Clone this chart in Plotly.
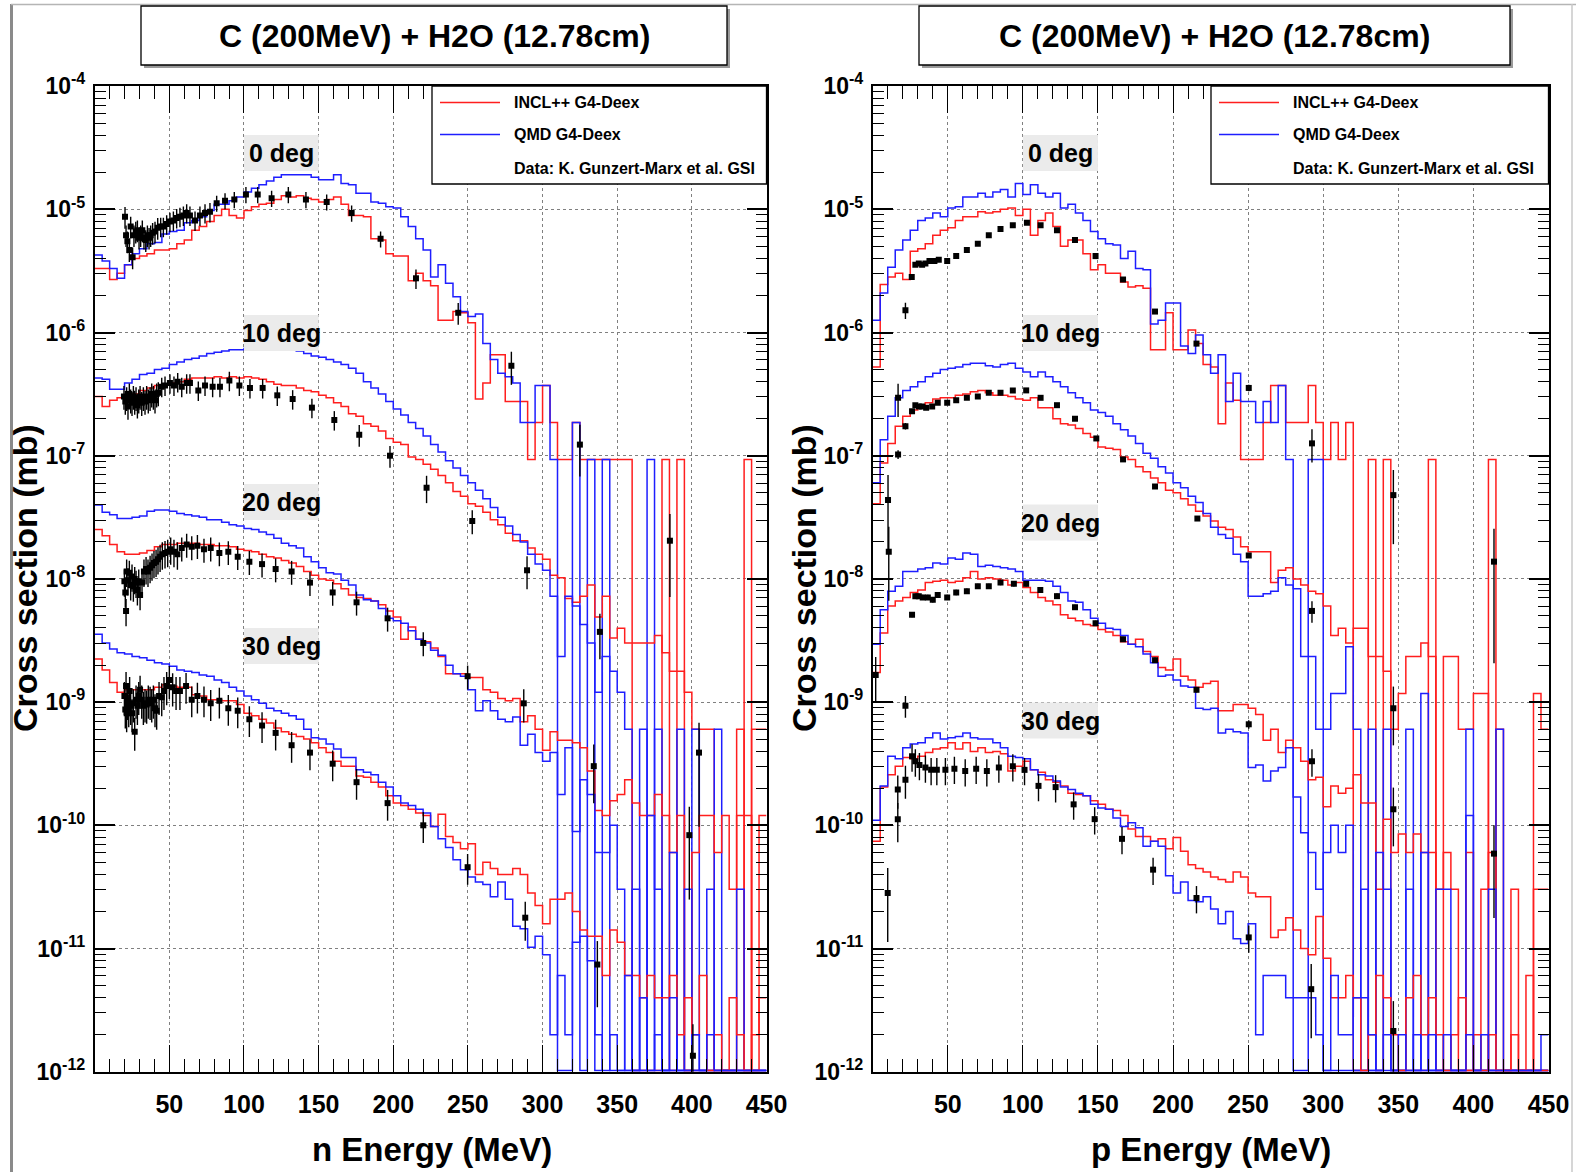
import plotly.graph_objects as go

W, H = 1576, 1172
N = None  # empty histogram bin

# ---------------------------------------------------------------------------
# Simulated spectra: log10(cross section / mb) in 5-MeV bins from 0 to 450 MeV
# ---------------------------------------------------------------------------
bin_edges = list(range(0, 455, 5))

# ---- neutrons (left panel) ----
n_incl_0 = [
    -5.48, -5.48, -5.57, -5.52, -5.45, -5.40, -5.38, -5.36, -5.33, -5.33,
    -5.32, -5.28, -5.25, -5.17, -5.14, -5.10, -5.05, -5.00, -5.05, -5.07,
    -5.01, -4.98, -4.96, -4.95, -4.92, -4.89, -4.90, -4.89, -4.91, -4.92,
    -4.94, -4.92, -4.90, -4.96, -5.05, -5.05, -5.06, -5.24, -5.25, -5.36,
    -5.38, -5.38, -5.58, -5.52, -5.58, -5.62, -5.90, -5.90, -5.83, -5.84,
    -5.92, -6.54, -6.41, -6.18, -6.18, -6.56, -6.56, -6.56, -7.03, -6.73,
    -6.43, -6.73, -7.03, -7.03, -6.73, -7.03, -7.03, -7.03, -7.03, -7.03,
    -7.03, -7.03, N, N, N, N, -7.03, N, -7.03, N,
    N, N, N, N, N, N, N, -7.03, N, N]
n_qmd_0 = [
    -5.37, -5.42, -5.48, -5.56, -5.45, -5.36, -5.32, -5.28, -5.27, -5.20,
    -5.18, -5.17, -5.11, -5.09, -5.06, -5.01, -4.96, -4.96, -4.93, -4.90,
    -4.86, -4.83, -4.80, -4.77, -4.74, -4.72, -4.72, -4.72, -4.72, -4.74,
    -4.76, -4.76, -4.72, -4.79, -4.80, -4.87, -4.87, -4.94, -4.95, -4.98,
    -4.99, -5.06, -5.14, -5.24, -5.33, -5.55, -5.45, -5.60, -5.71, -5.83,
    -5.87, -5.85, -6.09, -6.22, -6.33, -6.36, -6.41, -6.73, -6.73, -6.43,
    -6.43, -7.03, N, N, -6.73, N, -7.03, N, -7.03, N,
    N, N, N, N, -7.03, N, N, N, N, N,
    N, N, N, N, N, N, N, N, N, N]
n_incl_10 = [
    -6.52, -6.60, -6.55, -6.53, -6.51, -6.50, -6.47, -6.45, -6.43, -6.42,
    -6.41, -6.40, -6.38, -6.37, -6.37, -6.37, -6.36, -6.37, -6.36, -6.37,
    -6.36, -6.37, -6.38, -6.40, -6.42, -6.43, -6.43, -6.45, -6.47, -6.48,
    -6.51, -6.53, -6.57, -6.60, -6.66, -6.68, -6.74, -6.76, -6.80, -6.86,
    -6.89, -6.91, -7.01, -7.03, -7.07, -7.11, -7.16, -7.22, -7.29, -7.33,
    -7.39, -7.41, -7.46, -7.52, -7.56, -7.63, -7.69, -7.69, -7.75, -7.80,
    -7.84, -7.97, -7.99, -8.16, -8.19, -8.14, -8.05, -8.31, -8.14, -8.48,
    -8.40, -8.52, -8.52, -8.52, -8.52, -8.46, -8.60, -8.75, -8.75, -8.92,
    -9.22, -9.22, -9.22, N, N, N, -9.22, N, -9.22, -9.22]
n_qmd_10 = [
    -6.37, -6.38, -6.46, -6.46, -6.41, -6.38, -6.34, -6.33, -6.30, -6.29,
    -6.26, -6.24, -6.22, -6.21, -6.19, -6.17, -6.16, -6.15, -6.14, -6.14,
    -6.13, -6.12, -6.12, -6.12, -6.12, -6.13, -6.14, -6.15, -6.17, -6.19,
    -6.20, -6.22, -6.24, -6.26, -6.29, -6.33, -6.40, -6.45, -6.50, -6.56,
    -6.62, -6.67, -6.73, -6.78, -6.84, -6.91, -6.97, -7.04, -7.10, -7.16,
    -7.22, -7.28, -7.35, -7.42, -7.50, -7.57, -7.64, -7.70, -7.80, -7.88,
    -7.93, -8.14, -8.63, -8.14, -8.22, -8.37, -8.52, -8.92, -8.63, -8.75,
    -8.92, -9.22, N, -9.22, N, -9.22, N, N, -9.22, N,
    -9.22, N, N, -9.22, N, N, N, N, N, N]
n_incl_20 = [
    -7.60, -7.65, -7.72, -7.78, -7.80, -7.80, -7.79, -7.77, -7.74, -7.72,
    -7.72, -7.71, -7.71, -7.71, -7.72, -7.72, -7.73, -7.73, -7.74, -7.76,
    -7.77, -7.78, -7.80, -7.82, -7.83, -7.85, -7.87, -7.90, -7.94, -7.97,
    -8.00, -8.01, -8.04, -8.08, -8.13, -8.15, -8.16, -8.18, -8.21, -8.26,
    -8.31, -8.49, -8.39, -8.49, -8.51, -8.56, -8.63, -8.77, -8.77, -8.77,
    -8.80, -8.80, -8.90, -8.92, -8.97, -8.99, -8.97, -9.16, -9.11, -9.22,
    -9.39, -9.24, -9.31, -9.31, -9.33, -9.37, -9.56, -9.88, -9.92, -9.80,
    -9.75, -9.63, -9.82, -9.92, -9.92, -9.75, -9.92, -10.22, -9.92, N,
    -10.22, -9.92, -9.92, -10.22, -9.92, -10.52, -9.92, -9.92, N, -9.92]
n_qmd_20 = [
    -7.40, -7.46, -7.48, -7.51, -7.51, -7.50, -7.49, -7.45, -7.44, -7.44,
    -7.45, -7.47, -7.48, -7.49, -7.50, -7.52, -7.52, -7.54, -7.56, -7.57,
    -7.59, -7.60, -7.62, -7.64, -7.67, -7.71, -7.73, -7.75, -7.82, -7.86,
    -7.91, -7.95, -7.96, -8.01, -8.05, -8.13, -8.17, -8.18, -8.24, -8.32,
    -8.34, -8.36, -8.42, -8.49, -8.52, -8.58, -8.62, -8.70, -8.77, -8.79,
    -8.90, -9.07, -8.99, -9.07, -9.14, -9.16, -9.12, -9.35, -9.26, -9.41,
    -9.48, -9.41, -9.75, -9.37, -10.05, -9.63, -9.75, -10.22, -10.22, -10.00,
    -10.52, N, -10.52, N, -9.92, -10.52, N, -10.22, N, -10.52,
    N, N, -10.52, N, N, N, -10.52, N, N, N]
n_incl_30 = [
    -8.65, -8.74, -8.84, -8.92, -8.90, -8.90, -8.90, -8.90, -8.88, -8.86,
    -8.87, -8.88, -8.88, -8.94, -8.95, -8.98, -8.98, -8.99, -8.99, -9.02,
    -9.09, -9.11, -9.14, -9.17, -9.21, -9.24, -9.26, -9.28, -9.30, -9.33,
    -9.37, -9.41, -9.48, -9.52, -9.52, -9.60, -9.61, -9.65, -9.69, -9.76,
    -9.82, -9.84, -9.87, -9.90, -9.92, -10.01, -9.91, -10.09, -10.14, -10.19,
    -10.15, -10.40, -10.30, -10.35, -10.40, -10.40, -10.35, -10.40, -10.55, -10.65,
    -10.80, -10.60, -10.60, -10.55, -10.70, -10.85, -10.90, -10.90, -11.22, -10.85,
    -10.95, -11.22, -11.22, -11.40, -11.22, -11.40, -11.40, -11.22, -11.70, -11.40,
    -11.70, -11.22, N, -11.70, N, -11.40, -11.70, N, -11.70, -11.40]
n_qmd_30 = [
    -8.45, -8.52, -8.57, -8.60, -8.61, -8.63, -8.64, -8.66, -8.68, -8.69,
    -8.71, -8.74, -8.75, -8.76, -8.78, -8.79, -8.82, -8.84, -8.88, -8.91,
    -8.95, -8.98, -9.01, -9.05, -9.07, -9.09, -9.11, -9.14, -9.22, -9.29,
    -9.30, -9.34, -9.38, -9.45, -9.45, -9.55, -9.57, -9.59, -9.65, -9.69,
    -9.76, -9.82, -9.84, -9.87, -9.90, -10.01, -10.11, -10.18, -10.28, -10.36,
    -10.42, -10.46, -10.48, -10.58, -10.46, -10.60, -10.82, -10.84, -10.99, -10.90,
    -11.05, -11.70, -11.22, -11.70, -10.95, -10.90, -11.10, -11.70, N, -11.70,
    N, -11.22, N, -11.40, N, -11.70, N, -11.40, N, N,
    -11.70, N, -11.70, N, N, N, N, N, N, N]

# ---- protons (right panel) ----
p_incl_0 = [
    -6.28, -5.61, -5.55, -5.52, -5.57, -5.34, -5.32, -5.28, -5.21, -5.17,
    -5.15, -5.09, -5.06, -5.06, -5.02, -5.03, -5.02, -5.00, -4.99, -5.05,
    -5.00, -5.21, -5.09, -5.03, -5.14, -5.30, -5.25, -5.25, -5.36, -5.49,
    -5.45, -5.52, -5.52, -5.59, -5.63, -5.62, -5.64, -6.14, -6.14, -5.84,
    -6.14, -6.14, -5.98, -6.09, -6.26, -6.28, -6.74, -6.41, -6.55, -7.03,
    -7.03, -7.03, -6.73, -6.43, -6.43, -6.73, -6.73, -6.73, -6.43, -6.73,
    -7.03, -6.73, -7.03, -6.73, N, N, -7.03, N, -7.03, N,
    N, N, N, N, -7.03, N, N, N, N, N,
    N, N, -7.03, N, N, N, N, N, N, N]
p_qmd_0 = [
    -5.90, -5.68, -5.47, -5.33, -5.25, -5.17, -5.09, -5.07, -5.03, -5.06,
    -4.99, -4.98, -4.90, -4.90, -4.87, -4.90, -4.86, -4.84, -4.90, -4.79,
    -4.88, -4.80, -4.87, -4.90, -4.87, -4.99, -4.96, -5.03, -5.09, -5.18,
    -5.24, -5.28, -5.29, -5.40, -5.34, -5.48, -5.49, -5.93, -5.90, -5.76,
    -5.76, -6.11, -6.17, -6.02, -6.18, -6.33, -6.18, -6.56, -6.33, -6.56,
    -6.56, -6.73, -6.56, -6.73, -6.43, -7.03, N, N, -7.03, -7.03,
    N, N, N, N, N, N, N, N, N, N,
    N, N, N, N, N, N, N, N, N, N,
    N, N, N, N, N, N, N, N, N, N]
p_incl_10 = [
    -7.39, -7.06, -6.90, -6.76, -6.68, -6.63, -6.60, -6.57, -6.54, -6.53,
    -6.53, -6.51, -6.50, -6.48, -6.47, -6.49, -6.51, -6.51, -6.52, -6.54,
    -6.55, -6.53, -6.61, -6.61, -6.70, -6.74, -6.75, -6.78, -6.82, -6.85,
    -6.93, -6.94, -6.95, -7.01, -7.03, -7.09, -7.13, -7.18, -7.22, -7.28,
    -7.30, -7.35, -7.40, -7.45, -7.49, -7.53, -7.58, -7.60, -7.66, -7.74,
    -7.78, -7.78, -7.78, -8.03, -7.93, -7.91, -8.00, -8.05, -8.10, -8.12,
    -8.22, -8.46, -8.40, -8.52, -8.40, -8.40, -8.63, -8.63, -8.75, -9.22,
    -8.93, -8.63, -8.63, -8.52, -8.63, N, -8.63, -8.63, -9.22, -9.22,
    -8.93, -8.93, N, -9.22, N, N, N, N, -8.93, -9.22]
p_qmd_10 = [
    -7.22, -6.87, -6.68, -6.53, -6.47, -6.44, -6.40, -6.36, -6.33, -6.30,
    -6.29, -6.28, -6.26, -6.25, -6.25, -6.27, -6.28, -6.26, -6.25, -6.29,
    -6.32, -6.36, -6.32, -6.36, -6.40, -6.44, -6.49, -6.53, -6.57, -6.63,
    -6.65, -6.68, -6.74, -6.79, -6.84, -6.90, -6.98, -7.02, -7.09, -7.14,
    -7.22, -7.26, -7.33, -7.38, -7.47, -7.58, -7.64, -7.67, -7.80, -7.86,
    -8.14, -8.14, -8.12, -8.10, -7.99, -8.05, -8.08, -8.63, -8.63, -9.22,
    -9.22, -8.93, -8.93, -8.55, -9.22, N, -9.22, N, -9.22, N,
    N, -9.22, N, -8.93, N, N, N, N, N, -9.22,
    N, N, N, -9.22, N, N, N, N, N, N]
p_incl_20 = [
    -8.76, -8.44, -8.22, -8.18, -8.15, -8.11, -8.09, -8.03, -8.02, -8.01,
    -8.03, -8.02, -7.99, -7.94, -8.00, -7.99, -8.00, -8.01, -8.05, -8.03,
    -8.07, -8.11, -8.15, -8.18, -8.21, -8.29, -8.32, -8.34, -8.37, -8.38,
    -8.41, -8.43, -8.46, -8.51, -8.53, -8.49, -8.59, -8.63, -8.72, -8.74,
    -8.65, -8.79, -8.82, -8.88, -8.85, -8.83, -9.07, -9.07, -9.02, -9.02,
    -9.05, -9.10, -9.31, -9.22, -9.41, -9.31, -9.37, -9.48, -9.63, -9.61,
    -9.85, -9.68, -9.74, -9.70, -9.59, -9.82, -9.82, -10.52, -9.95, -10.22,
    -10.07, -10.22, -10.07, -10.22, -10.22, -10.52, -10.22, -10.52, N, -10.22,
    N, -10.52, -10.22, N, N, -10.52, N, N, -10.52, -10.52]
p_qmd_20 = [
    -8.53, -8.25, -8.10, -8.06, -7.94, -7.94, -7.92, -7.91, -7.87, -7.88,
    -7.83, -7.84, -7.79, -7.80, -7.90, -7.89, -7.90, -7.91, -7.92, -7.94,
    -8.01, -8.01, -8.01, -8.02, -8.06, -8.11, -8.18, -8.19, -8.25, -8.32,
    -8.36, -8.40, -8.41, -8.46, -8.53, -8.55, -8.61, -8.68, -8.79, -8.78,
    -8.82, -8.87, -8.88, -9.05, -9.06, -9.05, -9.25, -9.22, -9.24, -9.25,
    -9.53, -9.51, -9.64, -9.56, -9.53, -9.37, -9.77, -10.06, -10.22, -10.52,
    -10.22, -10.00, -10.22, -10.00, N, -10.52, N, -10.22, -10.52, N,
    N, -10.52, N, -10.22, N, -10.52, -10.52, N, N, -9.92,
    N, N, -10.52, N, N, N, N, N, N, N]
p_incl_30 = [
    -10.13, -9.69, -9.59, -9.52, -9.45, -9.46, -9.44, -9.41, -9.38, -9.37,
    -9.33, -9.38, -9.33, -9.40, -9.37, -9.41, -9.40, -9.42, -9.56, -9.52,
    -9.48, -9.55, -9.57, -9.63, -9.65, -9.68, -9.74, -9.75, -9.76, -9.80,
    -9.83, -9.87, -9.88, -9.92, -10.03, -10.09, -10.09, -10.13, -10.11, -10.19,
    -10.10, -10.21, -10.32, -10.35, -10.38, -10.42, -10.44, -10.46, -10.38, -10.42,
    -10.55, -10.58, -10.58, -10.91, -10.85, -10.75, -10.85, -11.00, -11.05, -10.74,
    -11.08, -11.40, -11.40, -11.22, -11.40, N, -11.70, -11.22, -11.40, -11.70,
    N, -11.40, -11.22, -11.70, -11.40, -11.70, N, -11.70, -11.40, N,
    -11.70, N, -11.70, N, N, -11.70, N, -11.22, N, N]
p_qmd_30 = [
    -9.96, -9.68, -9.44, -9.46, -9.37, -9.34, -9.33, -9.29, -9.25, -9.30,
    -9.29, -9.28, -9.25, -9.29, -9.30, -9.30, -9.33, -9.37, -9.44, -9.45,
    -9.46, -9.55, -9.59, -9.60, -9.64, -9.69, -9.71, -9.74, -9.76, -9.83,
    -9.86, -9.87, -9.94, -10.01, -9.98, -10.02, -10.17, -10.13, -10.17, -10.41,
    -10.55, -10.46, -10.61, -10.62, -10.58, -10.68, -10.80, -10.70, -10.92, -10.96,
    -10.80, -11.70, -11.22, -11.22, -11.22, -11.40, -11.40, -11.40, -11.40, -11.70,
    N, -11.22, -11.70, -11.70, -11.40, -11.40, -11.70, N, -11.70, N,
    -11.70, N, -11.70, N, -11.70, N, -11.70, N, N, -11.70,
    N, -11.70, N, N, N, N, N, N, N, -11.70]

# ---------------------------------------------------------------------------
# Measured data (K. Gunzert-Marx et al., GSI): energy (MeV), log10(mb), rel. error
# ---------------------------------------------------------------------------
n_d0_E = [20.3, 21.0, 21.9, 23.2, 24.1, 25.4, 26.3, 27.5, 28.6, 29.7,
          30.8, 31.9, 33.0, 34.2, 35.3, 36.4, 37.5, 38.8, 40.4, 42.2,
          44.2, 46.0, 48.2, 50.4, 52.7, 54.9, 57.1, 59.4, 61.6, 63.8,
          67.2, 70.5, 73.9, 77.2, 81.7, 87.3, 93.5, 101.3, 109.2, 118.5,
          129.7, 141.5, 155.4, 172.1, 191.5, 215.2, 243.5, 279.1, 325.0]
n_d0_log = [-5.06, -5.21, -5.26, -5.33, -5.14, -5.39, -5.21, -5.18, -5.17, -5.23,
            -5.21, -5.17, -5.23, -5.25, -5.21, -5.23, -5.21, -5.19, -5.18, -5.15,
            -5.14, -5.14, -5.12, -5.10, -5.09, -5.07, -5.06, -5.05, -5.03, -5.05,
            -5.09, -5.05, -5.03, -5.02, -4.95, -4.93, -4.92, -4.88, -4.88, -4.91,
            -4.88, -4.92, -4.94, -5.03, -5.24, -5.56, -5.84, -6.27, -6.91]
n_d0_err = [0.20, 0.20, 0.20, 0.20, 0.20, 0.20, 0.20, 0.20, 0.20, 0.20,
            0.20, 0.20, 0.20, 0.20, 0.20, 0.20, 0.20, 0.20, 0.20, 0.20,
            0.18, 0.18, 0.18, 0.18, 0.18, 0.18, 0.18, 0.18, 0.18, 0.18,
            0.18, 0.18, 0.18, 0.18, 0.15, 0.15, 0.15, 0.15, 0.15, 0.15,
            0.15, 0.15, 0.15, 0.15, 0.15, 0.18, 0.20, 0.30, 0.45]

n_d10_E = [19.6, 20.5, 21.4, 22.3, 23.2, 24.1, 25.0, 25.9, 26.8, 27.7,
           28.6, 29.5, 30.4, 31.5, 32.6, 33.7, 34.8, 35.9, 37.1, 38.2,
           39.3, 40.4, 41.5, 42.6, 44.9, 47.1, 50.4, 53.1, 55.6, 58.3,
           61.6, 63.8, 69.4, 73.9, 79.0, 83.9, 90.2, 96.9, 104.0, 112.5,
           122.3, 132.6, 145.5, 160.5, 177.2, 197.8, 222.3, 252.9, 289.6, 338.4,
           385.3, 404.8]
n_d10_log = [-6.52, -6.56, -6.53, -6.60, -6.50, -6.55, -6.57, -6.52, -6.56, -6.53,
             -6.59, -6.55, -6.52, -6.57, -6.53, -6.56, -6.52, -6.55, -6.53, -6.50,
             -6.52, -6.55, -6.50, -6.49, -6.44, -6.43, -6.41, -6.43, -6.40, -6.44,
             -6.41, -6.41, -6.47, -6.43, -6.44, -6.44, -6.39, -6.43, -6.45, -6.45,
             -6.51, -6.54, -6.61, -6.71, -6.83, -7.00, -7.26, -7.53, -7.93, -8.43,
             -7.69, -9.41]
n_d10_err = [0.22, 0.22, 0.22, 0.22, 0.22, 0.22, 0.22, 0.22, 0.22, 0.22,
             0.22, 0.22, 0.22, 0.22, 0.22, 0.22, 0.22, 0.22, 0.22, 0.22,
             0.22, 0.22, 0.22, 0.22, 0.18, 0.18, 0.18, 0.18, 0.18, 0.18,
             0.18, 0.18, 0.18, 0.18, 0.18, 0.18, 0.18, 0.18, 0.18, 0.18,
             0.18, 0.18, 0.18, 0.18, 0.20, 0.20, 0.25, 0.22, 0.30, 0.40,
             0.65, 0.75]

n_d20_E = [19.9, 20.5, 21.0, 21.4, 22.3, 23.2, 24.1, 25.0, 25.9, 26.8,
           27.7, 28.6, 29.5, 30.4, 31.7, 33.0, 34.4, 35.7, 37.1, 38.4,
           39.7, 41.1, 42.4, 43.8, 45.3, 47.1, 48.9, 50.9, 53.1, 55.4,
           58.3, 61.6, 65.0, 68.8, 73.2, 77.7, 83.5, 89.5, 95.8, 103.6,
           112.1, 121.2, 131.9, 144.2, 159.4, 175.4, 196.2, 220.1, 249.8, 287.4,
           334.3, 398.3]
n_d20_log = [-8.02, -8.11, -8.26, -7.94, -8.01, -7.95, -8.05, -7.98, -8.06, -8.00,
             -8.03, -8.09, -8.02, -8.13, -8.03, -7.94, -7.92, -7.94, -7.91, -7.89,
             -7.87, -7.86, -7.84, -7.82, -7.80, -7.79, -7.78, -7.76, -7.78, -7.80,
             -7.75, -7.72, -7.74, -7.73, -7.76, -7.75, -7.79, -7.78, -7.82, -7.86,
             -7.88, -7.92, -7.94, -8.03, -8.11, -8.19, -8.32, -8.52, -8.79, -9.01,
             -9.52, -10.08]
n_d20_err = [0.25, 0.25, 0.25, 0.25, 0.25, 0.25, 0.25, 0.25, 0.25, 0.25,
             0.25, 0.25, 0.25, 0.25, 0.25, 0.25, 0.25, 0.25, 0.25, 0.25,
             0.25, 0.25, 0.25, 0.25, 0.25, 0.25, 0.25, 0.25, 0.25, 0.25,
             0.22, 0.22, 0.22, 0.22, 0.22, 0.22, 0.22, 0.22, 0.22, 0.22,
             0.22, 0.22, 0.22, 0.22, 0.22, 0.22, 0.22, 0.22, 0.22, 0.30,
             0.50, 0.70]

n_d30_E = [19.9, 20.5, 21.0, 21.4, 22.1, 22.8, 23.4, 24.1, 25.0, 25.9,
           26.8, 27.7, 28.6, 29.5, 30.4, 31.5, 32.6, 33.7, 34.8, 35.9,
           37.1, 38.2, 39.3, 40.4, 41.5, 43.1, 44.9, 46.4, 48.2, 50.0,
           52.2, 54.5, 57.1, 61.2, 65.0, 68.8, 73.2, 77.7, 83.5, 89.5,
           95.8, 103.6, 112.1, 121.2, 131.9, 144.2, 159.4, 175.4, 196.2, 220.1,
           249.8, 288.4, 336.7, 400.7]
n_d30_log = [-8.95, -9.06, -8.87, -9.09, -8.99, -9.05, -8.91, -9.03, -9.09, -9.01,
             -9.24, -8.98, -9.03, -8.95, -8.90, -8.98, -9.03, -9.01, -9.02, -8.98,
             -8.99, -9.01, -8.98, -9.05, -9.07, -8.95, -8.96, -8.91, -8.87, -8.82,
             -8.88, -8.91, -8.91, -8.87, -8.98, -8.95, -8.98, -9.01, -8.99, -9.05,
             -9.07, -9.14, -9.19, -9.25, -9.35, -9.41, -9.50, -9.65, -9.82, -10.00,
             -10.34, -10.75, -11.13, -11.87]
n_d30_err = [0.30, 0.30, 0.30, 0.30, 0.30, 0.30, 0.30, 0.30, 0.30, 0.30,
             0.30, 0.30, 0.30, 0.30, 0.30, 0.30, 0.30, 0.30, 0.30, 0.30,
             0.30, 0.30, 0.30, 0.30, 0.30, 0.30, 0.30, 0.30, 0.30, 0.30,
             0.30, 0.30, 0.30, 0.28, 0.28, 0.28, 0.28, 0.28, 0.28, 0.28,
             0.28, 0.28, 0.28, 0.28, 0.28, 0.28, 0.28, 0.28, 0.28, 0.28,
             0.28, 0.35, 0.55, 0.80]

p_d0_E = [21.8, 26.0, 28.4, 30.7, 32.9, 35.1, 37.8, 41.1, 44.0, 49.6,
          55.6, 62.7, 70.0, 77.3, 85.1, 93.3, 102.7, 111.8, 122.7, 134.7,
          148.4, 166.7, 188.0, 215.6, 250.4, 292.5, 346.7, 413.7]
p_d0_log = [-5.82, -5.55, -5.45, -5.44, -5.45, -5.44, -5.42, -5.42, -5.41, -5.42,
            -5.38, -5.33, -5.28, -5.21, -5.16, -5.13, -5.11, -5.13, -5.17, -5.25,
            -5.38, -5.57, -5.83, -6.09, -6.45, -6.90, -7.32, -7.86]
p_d0_err = [0.15, 0.04, 0.04, 0.04, 0.04, 0.04, 0.04, 0.04, 0.04, 0.04,
            0.04, 0.04, 0.04, 0.04, 0.04, 0.04, 0.04, 0.04, 0.04, 0.04,
            0.04, 0.04, 0.04, 0.05, 0.06, 0.30, 0.60, 0.85]

p_d10_E = [10.2, 16.9, 16.9, 21.8, 26.2, 28.4, 30.7, 32.9, 35.6, 39.6,
           43.3, 49.6, 55.6, 62.7, 70.0, 77.3, 85.1, 93.3, 102.2, 111.8,
           122.7, 134.7, 148.9, 166.7, 188.0, 216.2, 250.4, 292.5, 346.7]
p_d10_log = [-7.36, -6.53, -6.99, -6.76, -6.64, -6.59, -6.60, -6.60, -6.61, -6.60,
             -6.57, -6.57, -6.55, -6.53, -6.52, -6.49, -6.49, -6.47, -6.47, -6.53,
             -6.59, -6.70, -6.86, -7.03, -7.25, -7.51, -7.81, -8.26, -9.05]
p_d10_err = [0.60, 0.30, 0.08, 0.06, 0.04, 0.04, 0.04, 0.04, 0.04, 0.04,
             0.04, 0.04, 0.04, 0.04, 0.04, 0.04, 0.04, 0.04, 0.04, 0.04,
             0.04, 0.04, 0.04, 0.04, 0.04, 0.04, 0.04, 0.20, 0.50]

p_d20_E = [2.0, 10.7, 21.8, 26.2, 28.4, 30.7, 33.3, 36.7, 40.0, 43.3,
           49.6, 55.6, 62.7, 70.0, 77.3, 85.1, 94.0, 102.2, 111.6, 122.7,
           134.7, 148.4, 166.7, 188.0, 215.6, 250.4, 292.5, 346.7, 413.7]
p_d20_log = [-8.78, -7.78, -9.03, -8.29, -8.14, -8.14, -8.15, -8.15, -8.17, -8.13,
             -8.15, -8.11, -8.10, -8.06, -8.06, -8.03, -8.04, -8.04, -8.09, -8.14,
             -8.23, -8.36, -8.49, -8.66, -8.90, -9.18, -9.48, -9.87, -10.23]
p_d20_err = [0.40, 0.60, 0.20, 0.05, 0.05, 0.05, 0.05, 0.05, 0.05, 0.05,
             0.05, 0.05, 0.05, 0.05, 0.05, 0.05, 0.05, 0.05, 0.05, 0.05,
             0.05, 0.05, 0.05, 0.05, 0.05, 0.08, 0.25, 0.50, 0.70]

p_d30_E = [10.0, 16.7, 16.7, 21.8, 26.2, 28.4, 31.1, 35.1, 38.9, 42.7,
           48.4, 54.4, 61.6, 68.9, 76.0, 84.0, 93.3, 101.1, 110.4, 121.8,
           133.8, 147.8, 166.0, 186.7, 215.6, 250.4, 292.0, 346.7]
p_d30_log = [-10.55, -9.95, -9.71, -9.63, -9.44, -9.48, -9.51, -9.53, -9.55, -9.55,
             -9.55, -9.54, -9.56, -9.54, -9.56, -9.53, -9.52, -9.55, -9.68, -9.69,
             -9.83, -9.95, -10.11, -10.36, -10.59, -10.91, -11.33, -11.67]
p_d30_err = [0.60, 0.35, 0.30, 0.30, 0.25, 0.25, 0.25, 0.25, 0.25, 0.25,
             0.25, 0.25, 0.25, 0.25, 0.25, 0.25, 0.25, 0.25, 0.25, 0.25,
             0.25, 0.25, 0.25, 0.25, 0.25, 0.25, 0.60, 0.75]

# text
title_text = "C (200MeV) + H2O (12.78cm)"
legend_labels = ["INCL++ G4-Deex", "QMD G4-Deex", "Data: K. Gunzert-Marx et al. GSI"]
angle_labels = ["0 deg", "10 deg", "20 deg", "30 deg"]
x_titles = ["n Energy (MeV)", "p Energy (MeV)"]
y_title = "Cross section (mb)"
x_tick_vals = [50, 100, 150, 200, 250, 300, 350, 400, 450]
y_decades = [-12, -11, -10, -9, -8, -7, -6, -5, -4]

# ---------------------------------------------------------------------------
FONT = "Liberation Sans, Arial, Helvetica, sans-serif"
RED = "rgb(255,30,30)"
BLUE = "rgb(30,30,255)"
ZERO = 10 ** -11.99


def px(x):
    return x / W


def py(y):
    return 1 - y / H


fig = go.Figure()


def add_hist(logs, color, xa, ya):
    ys = [10 ** v if v is not None else ZERO for v in logs]
    ys.append(ys[-1])
    fig.add_trace(go.Scatter(x=bin_edges, y=ys, mode="lines",
                             line=dict(color=color, width=1.5, shape="hv"),
                             xaxis=xa, yaxis=ya, hoverinfo="skip", showlegend=False))


def add_data(E, logs, errs, xa, ya):
    ys = [10 ** v for v in logs]
    ep = [f * y for f, y in zip(errs, ys)]
    fig.add_trace(go.Scatter(x=E, y=ys, mode="markers",
                             marker=dict(symbol="square", size=6, color="black"),
                             error_y=dict(type="data", array=ep, arrayminus=ep,
                                          color="black", thickness=1.4, width=0),
                             xaxis=xa, yaxis=ya, hoverinfo="skip", showlegend=False))


for incl, qmd in [(n_incl_0, n_qmd_0), (n_incl_10, n_qmd_10),
                  (n_incl_20, n_qmd_20), (n_incl_30, n_qmd_30)]:
    add_hist(incl, RED, "x", "y")
    add_hist(qmd, BLUE, "x", "y")
for incl, qmd in [(p_incl_0, p_qmd_0), (p_incl_10, p_qmd_10),
                  (p_incl_20, p_qmd_20), (p_incl_30, p_qmd_30)]:
    add_hist(incl, RED, "x2", "y2")
    add_hist(qmd, BLUE, "x2", "y2")

for E, lg, er in [(n_d0_E, n_d0_log, n_d0_err), (n_d10_E, n_d10_log, n_d10_err),
                  (n_d20_E, n_d20_log, n_d20_err), (n_d30_E, n_d30_log, n_d30_err)]:
    add_data(E, lg, er, "x", "y")
for E, lg, er in [(p_d0_E, p_d0_log, p_d0_err), (p_d10_E, p_d10_log, p_d10_err),
                  (p_d20_E, p_d20_log, p_d20_err), (p_d30_E, p_d30_log, p_d30_err)]:
    add_data(E, lg, er, "x2", "y2")

# ---- axes ----
minor_x = [v for v in range(10, 450, 10) if v % 50 != 0]
y_major = [10.0 ** d for d in y_decades]
y_text = ["10<sup>%d</sup>" % d for d in y_decades]
y_minor = [m * 10.0 ** d for d in y_decades[:-1] for m in range(2, 10)]

xax = dict(range=[0, 450], tickmode="array", tickvals=x_tick_vals, automargin=False,
           ticks="inside", ticklen=27, tickwidth=1.3, tickcolor="black",
           showline=True, linewidth=1.6, linecolor="black", mirror="allticks",
           showgrid=True, gridcolor="#808080", gridwidth=1, griddash="dot",
           zeroline=False, ticklabelstandoff=9,
           tickfont=dict(family=FONT, size=25, color="black", weight="bold"),
           minor=dict(tickmode="array", tickvals=minor_x, ticks="inside",
                      ticklen=13, tickwidth=1.2, tickcolor="black", showgrid=False))
yax = dict(type="log", range=[-12, -4], tickmode="array", tickvals=y_major, ticktext=y_text,
           automargin=False,
           ticks="inside", ticklen=20, tickwidth=2, tickcolor="black",
           showline=True, linewidth=1.6, linecolor="black", mirror="allticks",
           showgrid=True, gridcolor="#808080", gridwidth=1, griddash="dot",
           zeroline=False, ticklabelstandoff=3,
           tickfont=dict(family=FONT, size=23, color="black", weight="bold"),
           minor=dict(tickmode="array", tickvals=y_minor, ticks="inside",
                      ticklen=11, tickwidth=1.2, tickcolor="black", showgrid=False))

X_L = (94.7, 766.5)
X_R = (872.7, 1548.5)
Y_T, Y_B = 86.1, 1071.7

fig.update_layout(
    template="none",
    width=W, height=H, autosize=False,
    margin=dict(l=0, r=0, t=0, b=0, pad=0, autoexpand=False),
    paper_bgcolor="white", plot_bgcolor="white",
    showlegend=False,
    xaxis=dict(xax, domain=[px(X_L[0]), px(X_L[1])], anchor="y"),
    yaxis=dict(yax, domain=[py(Y_B), py(Y_T)], anchor="x"),
    xaxis2=dict(xax, domain=[px(X_R[0]), px(X_R[1])], anchor="y2"),
    yaxis2=dict(yax, domain=[py(Y_B), py(Y_T)], anchor="x2"),
)

shapes = []
annots = []

# outer frame of the picture
shapes.append(dict(type="line", xref="paper", yref="paper", x0=px(11.5), x1=px(11.5),
                   y0=py(4), y1=py(H), line=dict(color="#8a8a8a", width=3)))
shapes.append(dict(type="line", xref="paper", yref="paper", x0=px(11), x1=px(W),
                   y0=py(4.5), y1=py(4.5), line=dict(color="#b5b5b5", width=1.5)))
shapes.append(dict(type="line", xref="paper", yref="paper", x0=px(1572), x1=px(1572),
                   y0=py(4), y1=py(H), line=dict(color="#c8c8c8", width=1.5)))

panels = [
    dict(xa="x", box=(141, 727), leg=(432, X_L[1]), ytitle_x=25, xtitle_x=432,
         xtitle=x_titles[0], angles=[153, 333, 502, 646]),
    dict(xa="x2", box=(919, 1510), leg=(1211, X_R[1]), ytitle_x=804, xtitle_x=1211,
         xtitle=x_titles[1], angles=[153, 333, 522.6, 720.6]),
]

for p in panels:
    bx0, bx1 = p["box"]
    # title pave with shadow
    shapes.append(dict(type="rect", xref="paper", yref="paper", layer="above",
                       x0=px(bx0 + 3), x1=px(bx1 + 3), y0=py(68), y1=py(9),
                       fillcolor="#9a9a9a", line=dict(width=0)))
    shapes.append(dict(type="rect", xref="paper", yref="paper", layer="above",
                       x0=px(bx0), x1=px(bx1), y0=py(65), y1=py(6),
                       fillcolor="white", line=dict(color="black", width=1.3)))
    annots.append(dict(xref="paper", yref="paper", x=px((bx0 + bx1) / 2), y=py(36),
                       text=title_text, showarrow=False, xanchor="center", yanchor="middle",
                       font=dict(family=FONT, size=32, color="black", weight="bold")))
    # legend
    lx0, lx1 = p["leg"]
    shapes.append(dict(type="rect", xref="paper", yref="paper", layer="above",
                       x0=px(lx0), x1=px(lx1), y0=py(184), y1=py(Y_T),
                       fillcolor="white", line=dict(color="black", width=1.3)))
    for i, (lab, yy) in enumerate(zip(legend_labels, [102.5, 134.5, 168])):
        if i < 2:
            shapes.append(dict(type="line", xref="paper", yref="paper", layer="above",
                               x0=px(lx0 + 8), x1=px(lx0 + 68), y0=py(yy), y1=py(yy),
                               line=dict(color=[RED, BLUE][i], width=1.6)))
        annots.append(dict(xref="paper", yref="paper", x=px(lx0 + 80), y=py(yy),
                           text=lab, showarrow=False, xanchor="left", yanchor="middle",
                           font=dict(family=FONT, size=16, color="black", weight="bold")))
    # angle labels
    for lab, yc in zip(angle_labels, p["angles"]):
        shapes.append(dict(type="rect", xref=p["xa"], yref="paper", layer="above",
                           x0=100, x1=150, y0=py(yc + 18), y1=py(yc - 18),
                           fillcolor="#ebebeb", line=dict(width=0)))
        annots.append(dict(xref=p["xa"], yref="paper", x=125, y=py(yc),
                           text=lab, showarrow=False, xanchor="center", yanchor="middle",
                           font=dict(family=FONT, size=25, color="black", weight="bold")))
    # axis titles
    annots.append(dict(xref="paper", yref="paper", x=px(p["ytitle_x"]), y=py(578),
                       text=y_title, showarrow=False, textangle=-90,
                       xanchor="center", yanchor="middle",
                       font=dict(family=FONT, size=34, color="black", weight="bold")))
    annots.append(dict(xref="paper", yref="paper", x=px(p["xtitle_x"]), y=py(1149),
                       text=p["xtitle"], showarrow=False,
                       xanchor="center", yanchor="middle",
                       font=dict(family=FONT, size=33, color="black", weight="bold")))

fig.update_layout(shapes=shapes, annotations=annots)
fig.write_html("out.html")
